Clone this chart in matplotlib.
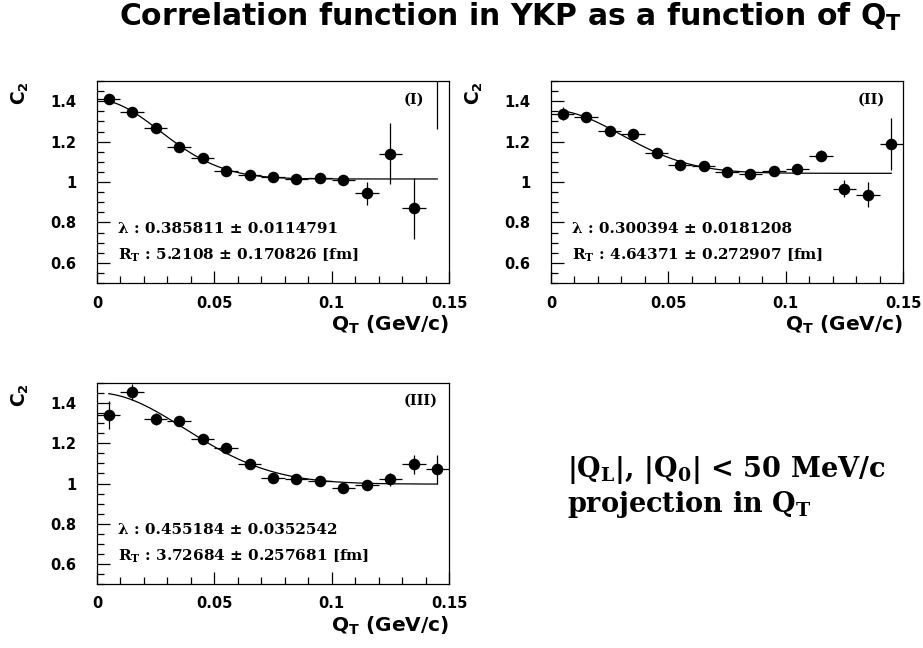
import numpy as np
import matplotlib
matplotlib.use('Agg')
import matplotlib.pyplot as plt
from matplotlib.ticker import MultipleLocator, FixedLocator

plt.rcParams['font.family'] = ['DejaVu Sans']
plt.rcParams['font.weight'] = 'bold'
plt.rcParams['mathtext.fontset'] = 'dejavusans'
plt.rcParams['mathtext.default'] = 'bf'

# bin centres in Q_T (GeV/c)
qt = [0.005, 0.015, 0.025, 0.035, 0.045, 0.055, 0.065, 0.075,
      0.085, 0.095, 0.105, 0.115, 0.125, 0.135, 0.145]

# panel I
c2_1 = [1.409, 1.347, 1.269, 1.174, 1.120, 1.055, 1.037, 1.023,
        1.013, 1.022, 1.010, 0.944, 1.140, 0.870, 1.620]
err_1 = [0.010, 0.010, 0.010, 0.010, 0.010, 0.010, 0.010, 0.010,
         0.010, 0.010, 0.010, 0.058, 0.150, 0.152, 0.356]
# panel II
c2_2 = [1.337, 1.322, 1.251, 1.239, 1.143, 1.085, 1.080, 1.051,
        1.038, 1.055, 1.063, 1.131, 0.967, 0.937, 1.189]
err_2 = [0.032, 0.012, 0.012, 0.015, 0.012, 0.012, 0.012, 0.012,
         0.012, 0.012, 0.012, 0.028, 0.042, 0.062, 0.129]
# panel III
c2_3 = [1.342, 1.455, 1.320, 1.313, 1.220, 1.175, 1.095, 1.025,
        1.020, 1.012, 0.978, 0.992, 1.022, 1.095, 1.070]
err_3 = [0.070, 0.042, 0.031, 0.020, 0.015, 0.015, 0.015, 0.015,
         0.015, 0.015, 0.015, 0.020, 0.032, 0.046, 0.071]

# fit results: lambda, R_T [fm], normalisation
lam = [0.385811, 0.300394, 0.455184]
lam_err = [0.0114791, 0.0181208, 0.0352542]
rt = [5.2108, 4.64371, 3.72684]
rt_err = [0.170826, 0.272907, 0.257681]
norm = [1.015, 1.043, 0.997]
labels = ['(I)', '(II)', '(III)']

HBARC = 0.1973
SERIF = dict(family='DejaVu Serif', fontweight='bold', math_fontfamily='dejavuserif')

W, H = 923, 648
fig = plt.figure(figsize=(W / 100, H / 100), dpi=100)

def px_axes(x0, y0, x1, y1):
    return fig.add_axes([x0 / W, 1 - y1 / H, (x1 - x0) / W, (y1 - y0) / H])

frames = [(97, 81, 449, 283), (551, 81, 903, 283), (97, 383, 449, 584)]
series = [(c2_1, err_1), (c2_2, err_2), (c2_3, err_3)]

for i, (fr, (c2, err)) in enumerate(zip(frames, series)):
    ax = px_axes(*fr)
    ax.errorbar(qt, c2, xerr=0.005, yerr=err, fmt='o', color='black',
                ms=7.3, elinewidth=0.9, capsize=0, zorder=3)
    qq = np.linspace(qt[0], qt[-1], 200)
    fit = norm[i] * (1 + lam[i] * np.exp(-(qq * rt[i] / HBARC) ** 2))
    ax.plot(qq, fit, color='black', lw=0.9, zorder=2)

    ax.set_xlim(0, 0.15)
    ax.set_ylim(0.5, 1.5)
    ax.xaxis.set_major_locator(FixedLocator([0, 0.05, 0.1, 0.15]))
    ax.xaxis.set_minor_locator(MultipleLocator(0.01))
    ax.yaxis.set_major_locator(FixedLocator([0.6, 0.8, 1.0, 1.2, 1.4]))
    ax.yaxis.set_minor_locator(MultipleLocator(0.05))
    ax.set_xticklabels(['0', '0.05', '0.1', '0.15'])
    ax.set_yticklabels(['0.6', '0.8', '1', '1.2', '1.4'])
    ax.tick_params(which='both', direction='in', top=False, right=False,
                   labelsize=10.5)
    ax.tick_params(which='major', length=9, width=0.9)
    ax.tick_params(which='minor', length=5, width=0.9)
    ax.tick_params(axis='y', which='both', pad=15)
    ax.tick_params(axis='x', which='both', pad=9)
    for sp in ax.spines.values():
        sp.set_linewidth(0.9)

    ax.set_xlabel(r'$Q_T$ (GeV/c)', fontsize=14.5, fontweight='bold',
                  ha='right', x=1.0, labelpad=2)
    ax.set_ylabel(r'$C_2$', fontsize=13.5, fontweight='bold',
                  ha='right', y=1.0, labelpad=14)

    ax.text(0.06, 0.249, 'λ : %g ± %g' % (lam[i], lam_err[i]),
            transform=ax.transAxes, fontsize=11, va='baseline', **SERIF)
    ax.text(0.06, 0.117, r'$R_T$ : %g ± %g [fm]' % (rt[i], rt_err[i]),
            transform=ax.transAxes, fontsize=11, va='baseline', **SERIF)
    ax.text(0.872, 0.89, labels[i], transform=ax.transAxes, fontsize=10.5,
            va='baseline', **SERIF)

fig.text(510 / W, 1 - 26 / H, r'Correlation function in YKP as a function of $Q_T$',
         fontsize=21.5, fontweight='bold', ha='center', va='baseline')

fig.text(567 / W, 1 - 477 / H, r'|$Q_L$|, |$Q_0$| < 50 MeV/c',
         fontsize=19.5, va='baseline', **SERIF)
fig.text(567 / W, 1 - 512 / H, r'projection in $Q_T$',
         fontsize=19.5, va='baseline', **SERIF)

fig.savefig('out.png', dpi=100)
